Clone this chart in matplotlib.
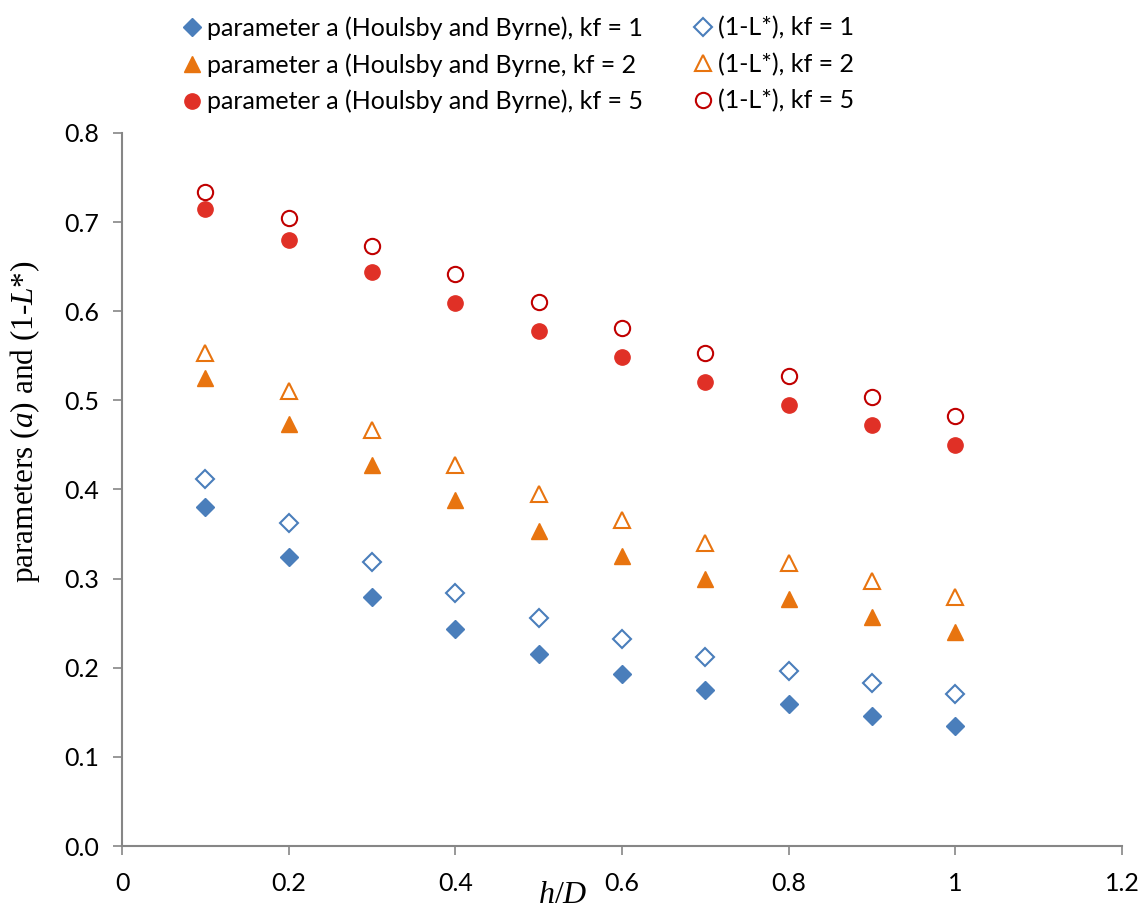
import numpy as np
import matplotlib
matplotlib.use('Agg')
import matplotlib.pyplot as plt

plt.rcParams['font.family'] = ['Lato', 'DejaVu Sans']
plt.rcParams['mathtext.fontset'] = 'custom'
plt.rcParams['mathtext.it'] = 'Liberation Serif:italic'
plt.rcParams['mathtext.rm'] = 'Liberation Serif'

# datos
hD = [0.1, 0.2, 0.3, 0.4, 0.5, 0.6, 0.7, 0.8, 0.9, 1.0]
a_kf1 = [0.380, 0.324, 0.279, 0.243, 0.215, 0.193, 0.175, 0.159, 0.146, 0.135]
L_kf1 = [0.412, 0.362, 0.319, 0.284, 0.256, 0.232, 0.212, 0.196, 0.183, 0.171]
a_kf2 = [0.525, 0.474, 0.427, 0.388, 0.353, 0.325, 0.300, 0.277, 0.257, 0.240]
L_kf2 = [0.553, 0.510, 0.467, 0.428, 0.395, 0.366, 0.340, 0.317, 0.297, 0.279]
a_kf5 = [0.715, 0.680, 0.644, 0.609, 0.578, 0.549, 0.521, 0.495, 0.472, 0.450]
L_kf5 = [0.734, 0.705, 0.673, 0.642, 0.610, 0.581, 0.553, 0.527, 0.504, 0.482]

azul = '#4A7EBB'
naranja = '#E8740F'
rojo = '#E03026'
rojo_borde = '#C00000'

fig = plt.figure(figsize=(11.45, 9.17), dpi=100)
ax = fig.add_axes([0.1066, 0.0774, 0.8734, 0.7776])

h1, = ax.plot(hD, a_kf1, 'D', ms=9, color=azul, mec=azul, ls='none',
              label='parameter a (Houlsby and Byrne), kf = 1')
h2, = ax.plot(hD, a_kf2, '^', ms=11, color=naranja, mec=naranja, ls='none',
              label='parameter a (Houlsby and Byrne, kf = 2')
h3, = ax.plot(hD, a_kf5, 'o', ms=11, color=rojo, mec=rojo, ls='none',
              label='parameter a (Houlsby and Byrne), kf = 5')
h4, = ax.plot(hD, L_kf1, 'D', ms=9, mfc='white', mec=azul, mew=1.5, ls='none',
              label='(1-L*), kf = 1')
h5, = ax.plot(hD, L_kf2, '^', ms=11, mfc='white', mec=naranja, mew=1.5, ls='none',
              label='(1-L*), kf = 2')
h6, = ax.plot(hD, L_kf5, 'o', ms=11, mfc='white', mec=rojo_borde, mew=1.5, ls='none',
              label='(1-L*), kf = 5')

ax.set_xlim(0, 1.2)
ax.set_ylim(0, 0.8)
ax.set_xticks(np.arange(0, 1.21, 0.2))
ax.set_xticklabels(['0', '0.2', '0.4', '0.6', '0.8', '1', '1.2'])
ax.set_yticks(np.arange(0, 0.81, 0.1))
ax.set_yticklabels(['%.1f' % v for v in np.arange(0, 0.81, 0.1)])
ax.tick_params(labelsize=18, color='#868686', length=6.5, width=1.2)
ax.tick_params(axis='y', pad=10)
ax.tick_params(axis='x', pad=12)

for s in ('top', 'right'):
    ax.spines[s].set_visible(False)
for s in ('bottom', 'left'):
    ax.spines[s].set_color('#868686')
    ax.spines[s].set_linewidth(1.5)

ax.set_xlabel(r'$h/D$', fontsize=23)
ax.xaxis.set_label_coords(0.441, -0.046)
ax.set_ylabel(r'parameters ($a$) and ($1$-$L$*)', fontsize=22.5,
              family='Liberation Serif')
ax.yaxis.set_label_coords(-0.08, 0.595)

fig.legend(handles=[h1, h2, h3, h4, h5, h6], ncol=2, loc='upper left',
           bbox_to_anchor=(0.137, 1.007), frameon=False, fontsize=18,
           handletextpad=0.1, columnspacing=1.9, labelspacing=0.53,
           handlelength=1.0)

fig.savefig('out.png', dpi=100)
